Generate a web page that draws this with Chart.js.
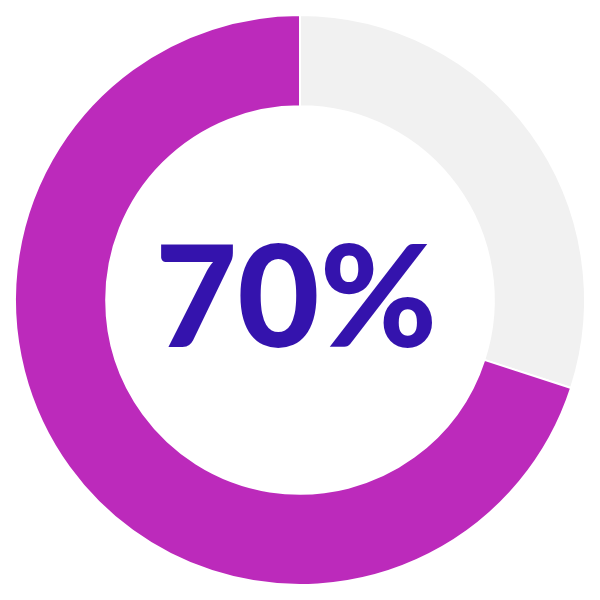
<!DOCTYPE html>
<html>
<head>
<meta charset="utf-8">
<script src="https://cdn.jsdelivr.net/npm/chart.js@4"></script>
<style>
  html, body { margin: 0; padding: 0; background: #fff; }
</style>
</head>
<body>
<canvas id="gauge" width="600" height="600"></canvas>
<script>
const labels = ['Remaining', 'Done'];
const values = [30, 70];
const centerLabel = '70%';
const centerFont = '900 142px Lato';

// draw the big percentage in the hole
const centerText = {
    id: 'centerText',
    afterDraw(chart) {
        const ctx = chart.ctx;
        const meta = chart.getDatasetMeta(0).data[0];
        ctx.save();
        ctx.font = centerFont;
        ctx.fillStyle = '#3413ad';
        ctx.textAlign = 'center';
        ctx.textBaseline = 'alphabetic';
        ctx.fillText(centerLabel, meta.x - 4, meta.y + 47);
        ctx.restore();
    }
};

function drawChart() {
    new Chart(document.getElementById('gauge'), {
        type: 'doughnut',
        data: {
            labels: labels,
            datasets: [{
                data: values,
                backgroundColor: ['#f1f1f1', '#bc2abb'],
                borderColor: '#ffffff',
                borderWidth: 2,
                hoverOffset: 0
            }]
        },
        options: {
            responsive: false,
            animation: false,
            cutout: '68%',
            layout: { padding: 14 },
            plugins: {
                legend: { display: false },
                tooltip: { enabled: false }
            }
        },
        plugins: [centerText]
    });
}

// canvas text needs the font ready first
document.fonts.load(centerFont).then(drawChart, drawChart);
</script>
</body>
</html>
